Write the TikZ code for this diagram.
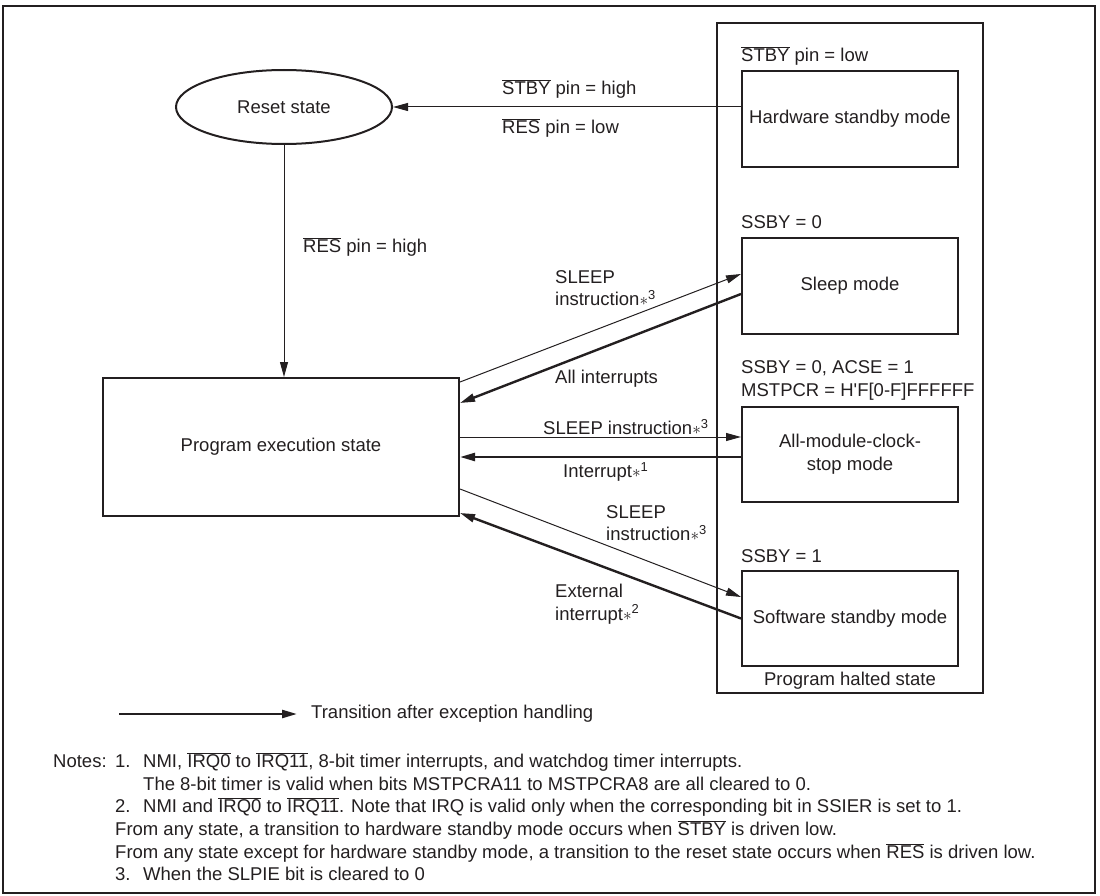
\documentclass[tikz,border=0pt]{standalone}
\usepackage{fontspec}
\setmainfont{Liberation Sans}
\usetikzlibrary{arrows.meta, shapes.geometric, positioning, calc}
\definecolor{inkgray}{RGB}{35,31,32}
\newcommand{\ovl}[1]{$\overline{\mbox{#1}}$}
\newcommand{\starnote}[1]{$\ast$\textsuperscript{#1}}

\begin{document}
\begin{tikzpicture}[x=1pt, y=-1pt, inkgray,
  font=\fontsize{18.5}{22.6}\selectfont,
  box/.style={draw=inkgray, line width=2pt, minimum width=216pt, minimum height=96pt, inner sep=0pt, align=center},
  lbl/.style={inner sep=0pt, anchor=west, align=left},
  thinarr/.style={line width=1pt, -{Triangle[length=15pt,width=8pt]}},
  thickarr/.style={line width=2.4pt, -{Triangle[length=15pt,width=8pt]}}]
\useasboundingbox (0,0) rectangle (1100,896);
\draw[line width=2pt] (3,6) rectangle (1095,893);

% states
\node[draw, ellipse, line width=2pt, minimum width=216pt, minimum height=74pt, inner sep=0pt] (reset) at (284,107) {Reset state};
\node[box, minimum width=356pt, minimum height=138pt] (prog) at (281,447) {Program execution state};
\node[draw, line width=2pt, minimum width=266pt, minimum height=670pt, inner sep=0pt] (halted) at (850,358) {};
\node (haltlbl) at ($(halted.south)+(0,-13)$) {Program halted state};
\node[box] (hw) at (850,119) {Hardware standby mode};
\node[box] (sleep) at (850,286) {Sleep mode};
\node[box, minimum height=95pt] (allmod) at (850,454.5) {All-module-clock-\\stop mode};
\node[box, minimum height=95pt] (soft) at (850,618.5) {Software standby mode};

% conditions above the modes
\node[lbl, anchor=south west, above right=4pt and 0pt of hw.north west] (hwcond) {\ovl{STBY} pin = low};
\node[lbl, anchor=south west, above right=8pt and 0pt of sleep.north west] (sleepcond) {SSBY = 0};
\node[lbl, anchor=south west, above right=5.5pt and 0pt of allmod.north west] (allcond) {SSBY = 0, ACSE = 1\\MSTPCR = H\textquotesingle F[0-F]FFFFFF};
\node[lbl, anchor=south west, above right=7pt and 0pt of soft.north west] (softcond) {SSBY = 1};

% reset transitions
\draw[thinarr] (hw.west |- reset.east) -- (reset.east);
\node[lbl] (stbyhigh) at (502,89) {\ovl{STBY} pin = high};
\node[lbl] (reslow) at (502,128) {\ovl{RES} pin = low};
\draw[thinarr] (reset.south) -- (reset.south |- prog.north);
\node[lbl] (reshigh) at (303,247) {\ovl{RES} pin = high};

% sleep mode
\draw[thinarr] ($(prog.north east)+(0,5)$) -- ($(sleep.west)+(0,-12)$);
\draw[thickarr] ($(sleep.west)+(0,8)$) -- ($(prog.north east)+(0,26)$);
\node[lbl] (sleepin) at (555,288) {SLEEP\\instruction\starnote{3}};
\node[lbl] (sleepout) at (555,379) {All interrupts};

% all-module-clock-stop mode
\coordinate (amin) at ($(allmod.west)+(0,-17.5)$);
\coordinate (amout) at ($(allmod.west)+(0,2.5)$);
\draw[thinarr] (prog.east |- amin) -- (amin);
\draw[thickarr] (amout) -- (prog.east |- amout);
\node[lbl] (allin) at (543,427) {SLEEP instruction\starnote{3}};
\node[lbl] (allout) at (563,472) {Interrupt\starnote{1}};

% software standby mode
\draw[thinarr] ($(prog.south east)+(0,-28)$) -- ($(soft.west)+(0,-21.5)$);
\draw[thickarr] (soft.west) -- ($(prog.south east)+(0,-4)$);
\node[lbl] (softin) at (606,523) {SLEEP\\instruction\starnote{3}};
\node[lbl] (softout) at (555,604) {External\\interrupt\starnote{2}};

% legend
\coordinate (legstart) at (119,714);
\node[lbl] (legtxt) at (311,714) {Transition after exception handling};
\draw[thickarr, shorten >=14pt] (legstart) -- (legtxt);

% notes
\node[inner sep=0pt, anchor=north west] (notes) at (53,751.7) {%
\begin{tabular}{@{}p{62pt}@{}p{28pt}@{}l@{}}
Notes: & 1. & NMI, \ovl{IRQ0} to \ovl{IRQ11}, 8-bit timer interrupts, and watchdog timer interrupts.\\
 & & The 8-bit timer is valid when bits MSTPCRA11 to MSTPCRA8 are all cleared to 0.\\
 & 2. & NMI and \ovl{IRQ0} to \ovl{IRQ11}. Note that IRQ is valid only when the corresponding bit in SSIER is set to 1.\\
 & \multicolumn{2}{@{}l@{}}{From any state, a transition to hardware standby mode occurs when \ovl{STBY} is driven low.}\\
 & \multicolumn{2}{@{}l@{}}{From any state except for hardware standby mode, a transition to the reset state occurs when \ovl{RES} is driven low.}\\
 & 3. & When the SLPIE bit is cleared to 0
\end{tabular}};
\end{tikzpicture}
\end{document}
